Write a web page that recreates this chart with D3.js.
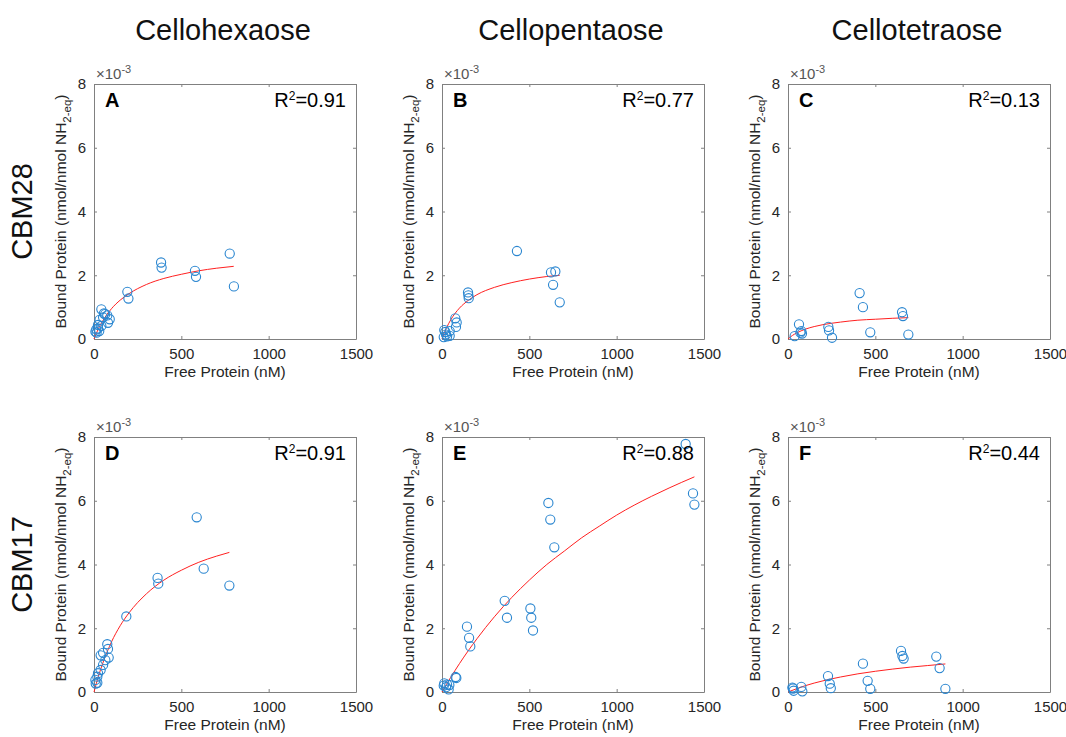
<!DOCTYPE html>
<html>
<head>
<meta charset="utf-8">
<script src="https://cdn.jsdelivr.net/npm/d3@7"></script>
<style>
  body { margin: 0; background: #fff; }
  svg { font-family: "Liberation Sans", Arial, sans-serif; }
</style>
</head>
<body>
<div id="chart"></div>
<script>
// column / row headings
const columnTitles = ["Cellohexaose", "Cellopentaose", "Cellotetraose"];
const rowTitles = ["CBM28", "CBM17"];
const panelLetters = ["A", "B", "C", "D", "E", "F"];
const r2Values = ["0.91", "0.77", "0.13", "0.91", "0.88", "0.44"];
const xTicks = [0, 500, 1000, 1500];
const yTicks = [0, 2, 4, 6, 8];

// measured points: free protein (nM), bound protein (x10^-3)
const freeA = [777, 801, 384, 387, 578, 584, 191, 197, 42, 57, 76, 90, 52, 32, 80, 23, 42, 13, 8, 23, 64, 30, 15];
const boundA = [2.68, 1.65, 2.40, 2.24, 2.14, 1.95, 1.48, 1.27, 0.93, 0.80, 0.74, 0.62, 0.68, 0.60, 0.51, 0.44, 0.41, 0.30, 0.23, 0.33, 0.78, 0.25, 0.20];
const freeB = [429, 624, 649, 636, 674, 149, 151, 153, 76, 84, 80, 44, 44, 19, 13, 23, 10, 29];
const boundB = [2.76, 2.09, 2.12, 1.70, 1.15, 1.46, 1.37, 1.28, 0.65, 0.52, 0.38, 0.25, 0.10, 0.22, 0.28, 0.14, 0.06, 0.08];
const freeC = [410, 429, 653, 658, 471, 689, 63, 76, 80, 71, 38, 231, 235, 252];
const boundC = [1.44, 1.00, 0.84, 0.72, 0.21, 0.14, 0.46, 0.25, 0.17, 0.20, 0.09, 0.38, 0.27, 0.04];
const freeD = [588, 628, 775, 364, 368, 185, 76, 80, 52, 38, 84, 65, 52, 38, 23, 19, 8, 19, 10];
const boundD = [5.48, 3.87, 3.34, 3.58, 3.40, 2.37, 1.50, 1.35, 1.23, 1.15, 1.08, 1.00, 0.85, 0.69, 0.59, 0.48, 0.38, 0.29, 0.26];
const freeE = [1395, 1437, 1445, 609, 620, 643, 359, 372, 506, 511, 521, 143, 155, 162, 78, 82, 13, 42, 23, 29, 38, 10];
const boundE = [7.78, 6.23, 5.88, 5.93, 5.41, 4.54, 2.86, 2.33, 2.62, 2.33, 1.93, 2.05, 1.70, 1.43, 0.47, 0.44, 0.27, 0.22, 0.15, 0.23, 0.08, 0.20];
const freeF = [647, 655, 662, 849, 868, 901, 429, 456, 471, 229, 239, 245, 76, 82, 29, 25, 32];
const boundF = [1.29, 1.13, 1.05, 1.11, 0.75, 0.10, 0.89, 0.35, 0.10, 0.50, 0.26, 0.12, 0.16, 0.02, 0.11, 0.14, 0.04];

// fitted curves
const fitXA = [0, 25, 50, 100, 150, 200, 300, 400, 500, 600, 700, 800];
const fitYA = [0, 0.32, 0.57, 0.95, 1.22, 1.42, 1.71, 1.90, 2.03, 2.14, 2.22, 2.28];
const fitXB = [0, 25, 50, 100, 150, 200, 300, 400, 500, 600, 674];
const fitYB = [0, 0.34, 0.60, 0.97, 1.21, 1.39, 1.62, 1.77, 1.88, 1.96, 2.00];
const fitXC = [0, 25, 50, 100, 150, 200, 300, 400, 500, 600, 689];
const fitYC = [0, 0.11, 0.19, 0.31, 0.39, 0.45, 0.53, 0.59, 0.62, 0.65, 0.67];
const fitXD = [0, 25, 50, 100, 150, 200, 300, 400, 500, 600, 700, 775];
const fitYD = [0, 0.49, 0.90, 1.57, 2.08, 2.48, 3.08, 3.51, 3.82, 4.07, 4.26, 4.38];
const fitXE = [0, 50, 100, 200, 300, 400, 500, 600, 700, 800, 900, 1000, 1100, 1200, 1300, 1445];
const fitYE = [0, 0.46, 0.89, 1.67, 2.36, 2.97, 3.51, 4.00, 4.42, 4.84, 5.20, 5.55, 5.86, 6.14, 6.40, 6.75];
const fitXF = [0, 100, 200, 300, 400, 500, 600, 700, 800, 901];
const fitYF = [0, 0.20, 0.35, 0.47, 0.57, 0.65, 0.72, 0.78, 0.83, 0.88];

const panels = [
  {free: freeA, bound: boundA, fx: fitXA, fy: fitYA},
  {free: freeB, bound: boundB, fx: fitXB, fy: fitYB},
  {free: freeC, bound: boundC, fx: fitXC, fy: fitYC},
  {free: freeD, bound: boundD, fx: fitXD, fy: fitYD},
  {free: freeE, bound: boundE, fx: fitXE, fy: fitYE},
  {free: freeF, bound: boundF, fx: fitXF, fy: fitYF}
];

const width = 1066, height = 737;
const colLeft = [94, 442, 788];
const rowTop = [84, 437];
const plotW = 262, plotH = 255;
const axisColor = "#808080";
const textColor = "#262626";

const svg = d3.select("#chart").append("svg")
  .attr("width", width)
  .attr("height", height);

const x = d3.scaleLinear().domain([0, 1500]).range([0, plotW]);
const y = d3.scaleLinear().domain([0, 8]).range([plotH, 0]);

columnTitles.forEach((t, i) => {
  svg.append("text")
    .attr("x", colLeft[i] + plotW / 2 - 2)
    .attr("y", 40)
    .attr("text-anchor", "middle")
    .attr("font-size", 29)
    .attr("fill", "#111")
    .text(t);
});

rowTitles.forEach((t, i) => {
  svg.append("text")
    .attr("transform", `translate(32, ${rowTop[i] + plotH / 2}) rotate(-90)`)
    .attr("text-anchor", "middle")
    .attr("font-size", 29)
    .attr("fill", "#111")
    .text(t);
});

const line = d3.line()
  .x(d => x(d[0]))
  .y(d => y(d[1]))
  .curve(d3.curveMonotoneX);

panels.forEach((p, k) => {
  const col = k % 3, row = Math.floor(k / 3);
  const g = svg.append("g")
    .attr("transform", `translate(${colLeft[col]}, ${rowTop[row]})`);

  // axes
  g.append("g")
    .attr("transform", `translate(0, ${plotH})`)
    .call(d3.axisBottom(x).tickValues(xTicks).tickFormat(d3.format("d"))
      .tickSizeInner(-3).tickSizeOuter(0).tickPadding(9));
  g.append("g")
    .call(d3.axisLeft(y).tickValues(yTicks).tickFormat(d3.format("d"))
      .tickSizeInner(-3).tickSizeOuter(0).tickPadding(8));
  g.append("g")
    .call(d3.axisTop(x).tickValues(xTicks).tickSizeInner(-3).tickSizeOuter(0).tickFormat(""));
  g.append("g")
    .attr("transform", `translate(${plotW}, 0)`)
    .call(d3.axisRight(y).tickValues(yTicks).tickSizeInner(-3).tickSizeOuter(0).tickFormat(""));

  g.selectAll(".domain, .tick line").attr("stroke", axisColor);
  g.selectAll(".tick text")
    .attr("font-size", 15)
    .attr("font-family", "Liberation Sans, Arial, sans-serif")
    .attr("fill", textColor);

  // fit curve
  g.append("path")
    .datum(p.fx.map((v, i) => [v, p.fy[i]]))
    .attr("d", line)
    .attr("fill", "none")
    .attr("stroke", "#ff2020")
    .attr("stroke-width", 1);

  // data points
  g.selectAll("circle")
    .data(p.free.map((v, i) => [v, p.bound[i]]))
    .enter()
    .append("circle")
    .attr("cx", d => x(d[0]))
    .attr("cy", d => y(d[1]))
    .attr("r", 4.6)
    .attr("fill", "none")
    .attr("stroke", "#2a86d0")
    .attr("stroke-width", 1.1);

  // x10^-3 multiplier
  const mult = g.append("text")
    .attr("x", 2)
    .attr("y", -5)
    .attr("font-size", 15)
    .attr("fill", "#555");
  mult.append("tspan").text("\u00d710");
  mult.append("tspan").attr("dy", -6).attr("font-size", 11).text("-3");

  // panel letter and R^2
  g.append("text")
    .attr("x", 11)
    .attr("y", 23)
    .attr("font-size", 20)
    .attr("font-weight", "bold")
    .attr("fill", "#000")
    .text(panelLetters[k]);

  const r2 = g.append("text")
    .attr("x", plotW - 10)
    .attr("y", 23)
    .attr("text-anchor", "end")
    .attr("font-size", 20)
    .attr("fill", "#000");
  r2.append("tspan").text("R");
  r2.append("tspan").attr("dy", -7).attr("font-size", 12).text("2");
  r2.append("tspan").attr("dy", 7).text("=" + r2Values[k]);

  // axis labels
  g.append("text")
    .attr("x", plotW / 2)
    .attr("y", plotH + 38)
    .attr("text-anchor", "middle")
    .attr("font-size", 15.5)
    .attr("fill", textColor)
    .text("Free Protein (nM)");

  const yl = g.append("text")
    .attr("transform", `translate(-28, ${plotH / 2}) rotate(-90)`)
    .attr("text-anchor", "middle")
    .attr("font-size", 15.5)
    .attr("fill", textColor);
  yl.append("tspan").text("Bound Protein (nmol/nmol NH");
  yl.append("tspan").attr("dy", 5).attr("font-size", 11.5).text("2-eq");
  yl.append("tspan").attr("dy", -5).text(")");
});
</script>
</body>
</html>
